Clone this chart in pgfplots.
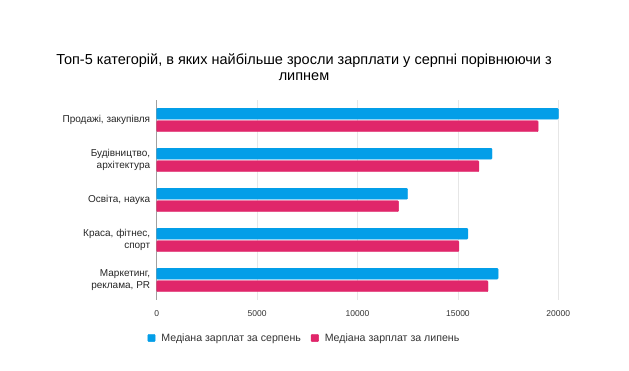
\documentclass[border=0pt]{standalone}
\usepackage{pgfplots}
\pgfplotsset{compat=1.18}
\usepackage{fontspec}
\setmainfont{Liberation Sans}
\definecolor{serp}{RGB}{3,158,232}
\definecolor{lyp}{RGB}{224,38,106}
\definecolor{gridc}{RGB}{230,230,230}
\definecolor{axc}{RGB}{160,160,160}
\begin{document}
\begin{tikzpicture}[x=1pt,y=1pt]
\path[use as bounding box] (0,0) rectangle (629,371);
\node[align=center,font=\fontsize{14.5}{16.5}\selectfont,text=black] at (304,304) {Топ-5 категорій, в яких найбільше зросли зарплати у серпні порівнюючи з\\липнем};
\begin{axis}[
  at={(156.7pt,71pt)}, anchor=south west,
  scale only axis, width=401.6pt, height=200pt,
  xbar, bar width=11pt,
  xmin=0, xmax=20000,
  ymin=-0.5, ymax=4.5,
  axis line style={draw=none},
  xtick={5000,10000,15000,20000},
  extra x ticks={0},
  extra x tick style={grid style={axc, line width=1.2pt}},
  xmajorgrids, grid style={gridc, line width=0.6pt},
  major tick length=0pt,
  scaled x ticks=false,
  /pgf/number format/assume math mode=true,
  /pgf/number format/1000 sep={},
  xticklabel style={font=\fontsize{8.5}{10}\selectfont, text=black!80, yshift=-7pt},
  ytick={0,1,2,3,4},
  yticklabels={{Маркетинг,\\реклама, PR},{Краса, фітнес,\\спорт},{Освіта, наука},{Будівництво,\\архітектура},{Продажі, закупівля}},
  yticklabel style={font=\fontsize{10}{12}\selectfont, text=black!85, align=right, xshift=-3pt},
  legend style={at={(0.368,-0.19)}, anchor=center, draw=none, legend columns=2,
    font=\fontsize{10.6}{12}\selectfont, text=black!80,
    /tikz/every odd column/.append style={column sep=4pt},
    /tikz/every even column/.append style={column sep=8pt}},
  legend image code/.code={\fill[#1] (0pt,-3.7pt) rectangle (7.4pt,3.7pt);},
  clip=false,
]
\addplot[fill=serp, draw=serp, rounded corners=1pt, bar shift=6.25pt] coordinates {(17000,0) (15500,1) (12500,2) (16700,3) (20000,4)};
\addlegendentry{Медіана зарплат за серпень}
\addplot[fill=lyp, draw=lyp, rounded corners=1pt, bar shift=-6.25pt] coordinates {(16500,0) (15050,1) (12050,2) (16050,3) (19000,4)};
\addlegendentry{Медіана зарплат за липень}
\end{axis}
\end{tikzpicture}
\end{document}
